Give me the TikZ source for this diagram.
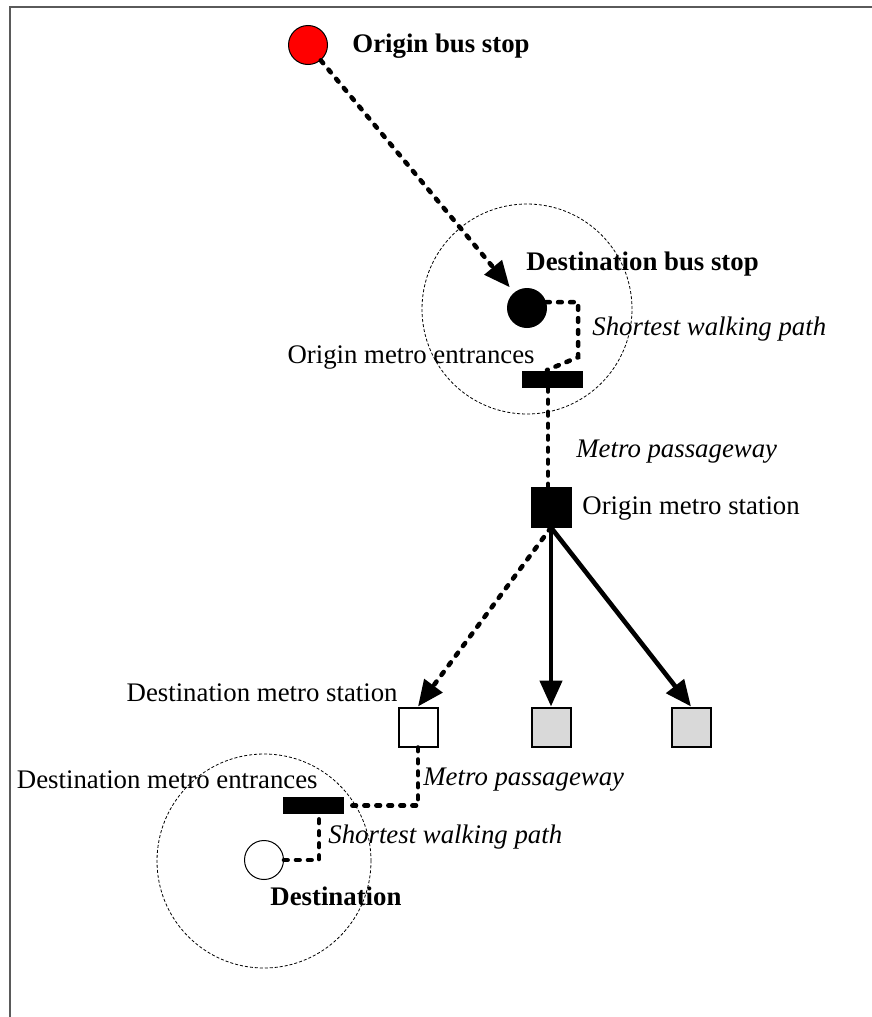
\documentclass[tikz,border=0pt]{standalone}
\usepackage{fontspec}
\setmainfont{Liberation Serif}
\usetikzlibrary{arrows.meta}
\definecolor{stopred}{RGB}{255,0,0}
\definecolor{softgray}{RGB}{217,217,217}
\definecolor{framegray}{RGB}{90,90,90}

\begin{document}
\begin{tikzpicture}[x=0.5pt, y=-0.5pt,
    every node/.style={font=\fontsize{13.4}{16}\selectfont},
    lbl/.style={inner sep=0pt, anchor=base west},
    busstop/.style={circle, draw, line width=0.5pt, minimum size=19.5pt, inner sep=0pt},
    station/.style={rectangle, draw, line width=1pt, minimum size=19.5pt, inner sep=0pt},
    gate/.style={rectangle, fill=black, minimum width=30.5pt, minimum height=8.5pt, inner sep=0pt},
    zone/.style={circle, draw, line width=0.4pt, dash pattern=on 1.5pt off 1pt, inner sep=0pt},
    walk/.style={line width=2.3pt, line cap=round, dash pattern=on 1.8pt off 4.2pt},
    ride/.style={line width=2.3pt},
    headed/.style={-{Triangle[length=13pt,width=11pt]}}]
    \useasboundingbox (0,0) rectangle (872,1017);
    \draw[framegray, line width=1pt] (10,1017) -- (10,6.5) -- (872,6.5);

    \node[zone, minimum size=105pt] (ozone) at (527,309) {};
    \node[zone, minimum size=107pt] (dzone) at (264,861) {};

    \node[busstop, fill=stopred] (obs) at (308,45) {};
    \node[busstop, fill=black] (dbs) at (527,308) {};
    \node[gate] (oent) at (552,379) {};
    \node[station, fill=black] (osta) at (551,507) {};
    \node[station, fill=white] (dsta) at (418,727) {};
    \node[station, fill=softgray] (alt1) at (551,727) {};
    \node[station, fill=softgray] (alt2) at (691,727) {};
    \node[gate] (dent) at (313.5,805.5) {};
    \node[busstop, fill=white] (dest) at (264,860) {};

    \node[lbl] (obslbl) at (352,52) {\textbf{Origin bus stop}};
    \node[lbl] (dbslbl) at (526,270) {\textbf{Destination bus stop}};
    \node[lbl] (owalk) at (592,335) {\textit{Shortest walking path}};
    \node[lbl, anchor=base east] (oentlbl) at (535,363) {Origin metro entrances};
    \node[lbl] (opass) at (576,457) {\textit{Metro passageway}};
    \node[lbl] (ostalbl) at (582,514) {Origin metro station};
    \node[lbl, anchor=base east] (dstalbl) at (398,701) {Destination metro station};
    \node[lbl, anchor=base east] (dentlbl) at (318,788) {Destination metro entrances};
    \node[lbl] (dpass) at (423,785) {\textit{Metro passageway}};
    \node[lbl] (dwalk) at (328,843) {\textit{Shortest walking path}};
    \node[lbl] (destlbl) at (270,905) {\textbf{Destination}};

    \draw[walk, headed, shorten >=3.5pt] (obs) -- (dbs);
    \draw[walk] (dbs.17) -- ++(32,0) -- ++(0,55) -- ([xshift=-2.5pt]oent.north);
    \draw[walk] ([xshift=-2pt]oent.south) -- ([xshift=-1.5pt]osta.north);
    \draw[walk, headed] (osta.south) -- (dsta.north);
    \draw[ride, headed] (osta.south) -- (alt1.north);
    \draw[ride, headed] (osta.south) -- (alt2.north);
    \draw[walk] (dsta.south) |- (dent.east);
    \draw[walk] (dest.east) -| ([xshift=2.75pt]dent.south);
\end{tikzpicture}
\end{document}
